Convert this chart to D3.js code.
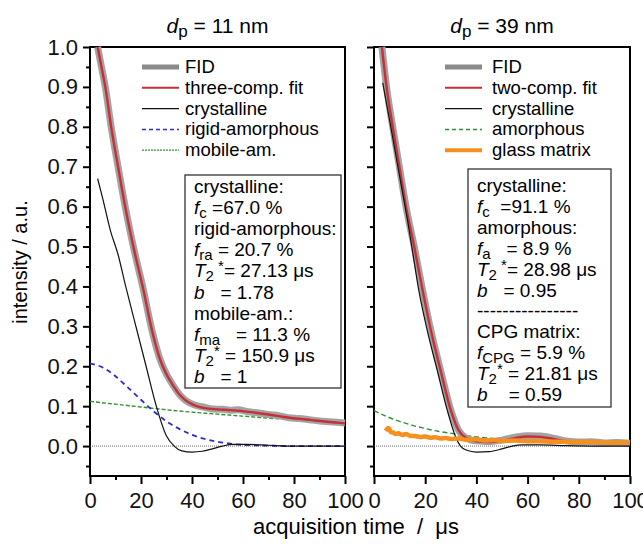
<!DOCTYPE html>
<html>
<head>
<meta charset="utf-8">
<script src="https://cdn.jsdelivr.net/npm/d3@7"></script>
<style>
  body { margin: 0; background: #fff; }
  svg text { font-family: Arial, "Liberation Sans", sans-serif; white-space: pre; }
</style>
</head>
<body>
<script>
// values: [time in µs, intensity]
const fid11 = [[3,1.0],[4.5,0.95],[6,0.9],[8.3,0.8],[11,0.7],[13.8,0.6],[17,0.5],[21,0.39],[24.3,0.29],[27.6,0.215],[30,0.18],[32,0.158],[35,0.13],[37.4,0.115],[41,0.103],[45,0.097],[48,0.093],[52,0.092],[55,0.09],[58,0.091],[62,0.086],[66,0.083],[70,0.079],[74,0.076],[78,0.071],[82,0.069],[86,0.066],[90,0.063],[94,0.061],[98,0.059],[100,0.058]]
const fit11 = [[3,1.0],[4.5,0.95],[6,0.9],[8.3,0.8],[11,0.7],[13.8,0.6],[17,0.5],[21,0.39],[24.3,0.29],[27.6,0.215],[30,0.18],[32,0.158],[35,0.13],[37.4,0.115],[41,0.102],[45,0.095],[50,0.092],[55,0.09],[63,0.085],[70,0.079],[76,0.073],[87,0.065],[98,0.058],[100,0.057]]
const cryst11 = [[3,0.67],[5,0.62],[8,0.54],[11,0.48],[14,0.4],[18,0.3],[22,0.2],[26,0.1],[30,0.025],[33,0],[36,-0.012],[40,-0.015],[44,-0.013],[48,-0.007],[52,0],[56,0.004],[62,0.004],[70,0.002],[80,0],[100,0]]
const rigid11 = [[0,0.207],[5,0.197],[10,0.175],[15,0.146],[20,0.116],[25,0.087],[30,0.062],[35,0.043],[40,0.028],[45,0.018],[50,0.011],[55,0.006],[60,0.003],[70,0.001],[80,0],[100,0]]
const mobile11 = [[0,0.112],[10,0.105],[20,0.098],[30,0.091],[40,0.085],[50,0.08],[60,0.075],[70,0.07],[80,0.066],[90,0.062],[100,0.058]]

const fid39 = [[3.1,1.0],[4.9,0.9],[7.3,0.8],[9.9,0.7],[12.5,0.6],[15.7,0.5],[19,0.39],[22.2,0.29],[26,0.19],[30,0.09],[33,0.04],[36,0.02],[40,0.013],[45,0.011],[50,0.015],[55,0.022],[60,0.026],[65,0.025],[70,0.02],[75,0.013],[80,0.01],[85,0.011],[90,0.008],[95,0.009],[100,0.007]]
const fit39 = [[3.1,1.0],[4.9,0.9],[7.3,0.8],[9.9,0.7],[12.5,0.6],[15.7,0.5],[19,0.39],[22.2,0.29],[26,0.19],[30,0.09],[33,0.04],[36,0.02],[40,0.012],[45,0.01],[50,0.013],[55,0.02],[60,0.024],[65,0.023],[70,0.018],[75,0.012],[80,0.01],[90,0.008],[100,0.007]]
const cryst39 = [[3.4,0.91],[6,0.82],[8.5,0.73],[11,0.64],[13.5,0.55],[15,0.49],[17.5,0.39],[20.8,0.29],[24.7,0.19],[28.6,0.09],[31.9,0.023],[33.8,0],[36,-0.01],[40,-0.015],[45,-0.014],[50,-0.007],[54,0],[58,0.003],[65,0.003],[75,0.001],[85,0],[100,0]]
const amorph39 = [[0,0.089],[5,0.074],[10,0.062],[15,0.052],[20,0.044],[25,0.037],[30,0.032],[40,0.023],[50,0.017],[60,0.012],[70,0.009],[80,0.0065],[90,0.0047],[100,0.0035]]
const glass39 = [[4.5,0.038],[5,0.042],[5.5,0.045],[6,0.043],[6.5,0.035],[7.5,0.034],[8.5,0.03],[9.5,0.032],[11,0.028],[12.5,0.03],[14,0.026],[16,0.025],[18,0.023],[20,0.024],[22,0.021],[24,0.022],[26,0.019],[28,0.02],[30,0.018],[33,0.019],[36,0.016],[40,0.017],[43,0.014],[47,0.015],[50,0.013],[55,0.014],[60,0.012],[65,0.012],[70,0.011],[75,0.011],[80,0.01],[85,0.01],[90,0.009],[95,0.009],[100,0.008]]

const timeTicks = [0, 20, 40, 60, 80, 100]
const timeMinor = [10, 30, 50, 70, 90]
const intensityTicks = [0, 0.1, 0.2, 0.3, 0.4, 0.5, 0.6, 0.7, 0.8, 0.9, 1.0]
const intensityMinor = [-0.05, 0.05, 0.15, 0.25, 0.35, 0.45, 0.55, 0.65, 0.75, 0.85, 0.95]

const legend11 = ["FID", "three-comp. fit", "crystalline", "rigid-amorphous", "mobile-am."]
const legend39 = ["FID", "two-comp. fit", "crystalline", "amorphous", "glass matrix"]

// text of the fit boxes, split into pieces: i = italic, sub / sup = shifted
const box11 = [
  [["crystalline:"]],
  [["f","i"],["c","sub"],[" =67.0 %"]],
  [["rigid-amorphous:"]],
  [["f","i"],["ra","sub"],[" = 20.7 %"]],
  [["T","i"],["2","sub"],[" *","sup"],["= 27.13 μs"]],
  [["b","i"],["   = 1.78"]],
  [["mobile-am.:"]],
  [["f","i"],["ma","sub"],["   = 11.3 %"]],
  [["T","i"],["2","sub"],["*","sup"],[" = 150.9 μs"]],
  [["b","i"],["   = 1"]]
]
const box39 = [
  [["crystalline:"]],
  [["f","i"],["c","sub"],["  =91.1 %"]],
  [["amorphous:"]],
  [["f","i"],["a","sub"],["   = 8.9 %"]],
  [["T","i"],["2","sub"],[" *","sup"],["= 28.98 μs"]],
  [["b","i"],["   = 0.95"]],
  [["----------------"]],
  [["CPG matrix:"]],
  [["f","i"],["CPG","sub"],[" = 5.9 %"]],
  [["T","i"],["2","sub"],["*","sup"],[" = 21.81 μs"]],
  [["b","i"],["    = 0.59"]]
]

const w = 643
const h = 544
const plotTop = 47
const plotBottom = 476

const svg = d3.select("body")
        .append("svg")
        .attr("width", w)
        .attr("height", h)

const y = d3.scaleLinear().domain([-0.075, 1.0]).range([plotBottom, plotTop])

// writes one line of mixed text (italic, subscripts) into a text element
function richText(textEl, pieces, size) {
    let shift = 0
    pieces.forEach(p => {
        const kind = p[1]
        const target = kind === "sub" ? 4 : kind === "sup" ? -6 : 0
        textEl.append("tspan")
            .attr("dy", target - shift)
            .attr("font-style", kind === "i" ? "italic" : null)
            .attr("font-size", (kind === "sub" || kind === "sup") ? size - 4 : null)
            .text(p[0])
        shift = target
    })
}

function drawPanel(x0, x1, title, showLabels) {
    const x = d3.scaleLinear().domain([0, 100]).range([x0, x1])
    const g = svg.append("g")

    // axes with outward ticks
    const yAxis = g.append("g").attr("transform", `translate(${x0},0)`)
        .call(d3.axisLeft(y).tickValues(intensityTicks).tickSize(7).tickSizeOuter(0)
            .tickFormat(showLabels ? d3.format(".1f") : ""))
    g.append("g").attr("transform", `translate(${x0},0)`)
        .call(d3.axisLeft(y).tickValues(intensityMinor).tickSize(4).tickSizeOuter(0).tickFormat(""))
    g.append("g").attr("transform", `translate(0,${plotBottom})`)
        .call(d3.axisBottom(x).tickValues(timeTicks).tickSize(8).tickSizeOuter(0).tickPadding(8))
    g.append("g").attr("transform", `translate(0,${plotBottom})`)
        .call(d3.axisBottom(x).tickValues(timeMinor).tickSize(4).tickSizeOuter(0).tickFormat(""))
    g.selectAll(".domain").remove()
    g.selectAll(".tick line").attr("stroke", "#000").attr("stroke-width", 2)
    g.selectAll(".tick text").attr("font-size", 22).attr("fill", "#111")
    yAxis.selectAll(".tick text").attr("dx", "-2px")

    // frame
    g.append("rect")
        .attr("x", x0).attr("y", plotTop)
        .attr("width", x1 - x0).attr("height", plotBottom - plotTop)
        .attr("fill", "none").attr("stroke", "#000").attr("stroke-width", 2)

    // zero line
    g.append("line")
        .attr("x1", x0).attr("x2", x1)
        .attr("y1", y(0)).attr("y2", y(0))
        .attr("stroke", "#444").attr("stroke-width", 0.8).attr("stroke-dasharray", "1,1")

    const t = svg.append("text")
        .attr("x", (x0 + x1) / 2).attr("y", 33)
        .attr("text-anchor", "middle").attr("font-size", 21)
    richText(t, title, 21)

    return {g: g, x: x}
}

function addLine(panel, data, color, width, dash) {
    const line = d3.line()
        .x(d => panel.x(d[0]))
        .y(d => y(d[1]))
        .curve(d3.curveMonotoneX)
    panel.g.append("path")
        .datum(data)
        .attr("d", line)
        .attr("fill", "none")
        .attr("stroke", color)
        .attr("stroke-width", width)
        .attr("stroke-dasharray", dash || null)
        .attr("stroke-linejoin", "round")
}

function addLegend(names, styles, lineX, textX) {
    names.forEach((name, i) => {
        const yy = 67 + i * 20.8
        svg.append("line")
            .attr("x1", lineX).attr("x2", lineX + 37)
            .attr("y1", yy).attr("y2", yy)
            .attr("stroke", styles[i][0])
            .attr("stroke-width", styles[i][1])
            .attr("stroke-dasharray", styles[i][2] || null)
        svg.append("text")
            .attr("x", textX).attr("y", yy + 6)
            .attr("font-size", 18.5)
            .text(name)
    })
}

function addBox(lines, bx, by, bw, bh, firstBase, step) {
    svg.append("rect")
        .attr("x", bx).attr("y", by).attr("width", bw).attr("height", bh)
        .attr("fill", "#fff").attr("stroke", "#333").attr("stroke-width", 1.3)
    lines.forEach((pieces, i) => {
        const t = svg.append("text")
            .attr("x", bx + 9).attr("y", firstBase + i * step)
            .attr("font-size", 19)
        richText(t, pieces, 19)
    })
}

const fidColor = "#a3a3a3"
const fitColor = "#c62f35"
const blue = "#2b2bd0"
const green = "#2f922f"
const orange = "#f5901e"

// left panel, d_p = 11 nm
const left = drawPanel(90, 345, [["d","i"],["p","sub"],[" = 11 nm"]], true)
addLine(left, mobile11, green, 1.4, "4,2")
addLine(left, rigid11, blue, 1.8, "5,4")
addLine(left, fid11, fidColor, 7)
addLine(left, fit11, fitColor, 2.4)
addLine(left, cryst11, "#111", 1.2)
addLegend(legend11, [[ "#8a8a8a", 5 ], [fitColor, 2], ["#111", 1.3], [blue, 1.5, "4,3"], [green, 1.3, "2,1"]], 142, 185)
addBox(box11, 185, 175, 156, 213, 193, 21.1)

// right panel, d_p = 39 nm
const right = drawPanel(374, 630, [["d","i"],["p","sub"],[" = 39 nm"]], false)
addLine(right, amorph39, green, 1.4, "5,3")
addLine(right, fid39, fidColor, 7)
addLine(right, fit39, fitColor, 2.4)
addLine(right, cryst39, "#111", 1.2)
addLine(right, glass39, orange, 4.5)
addLegend(legend39, [[ "#8a8a8a", 5 ], [fitColor, 2], ["#111", 1.3], [green, 1.5, "4,3"], [orange, 4]], 445, 492)
addBox(box39, 468, 169, 143, 238, 192, 20.9)

// axis titles
svg.append("text")
    .attr("x", 356).attr("y", 534)
    .attr("text-anchor", "middle").attr("font-size", 22)
    .text("acquisition time  /  μs")
svg.append("text")
    .attr("transform", "translate(27,262) rotate(-90)")
    .attr("text-anchor", "middle").attr("font-size", 20)
    .text("intensity / a.u.")
</script>
</body>
</html>
